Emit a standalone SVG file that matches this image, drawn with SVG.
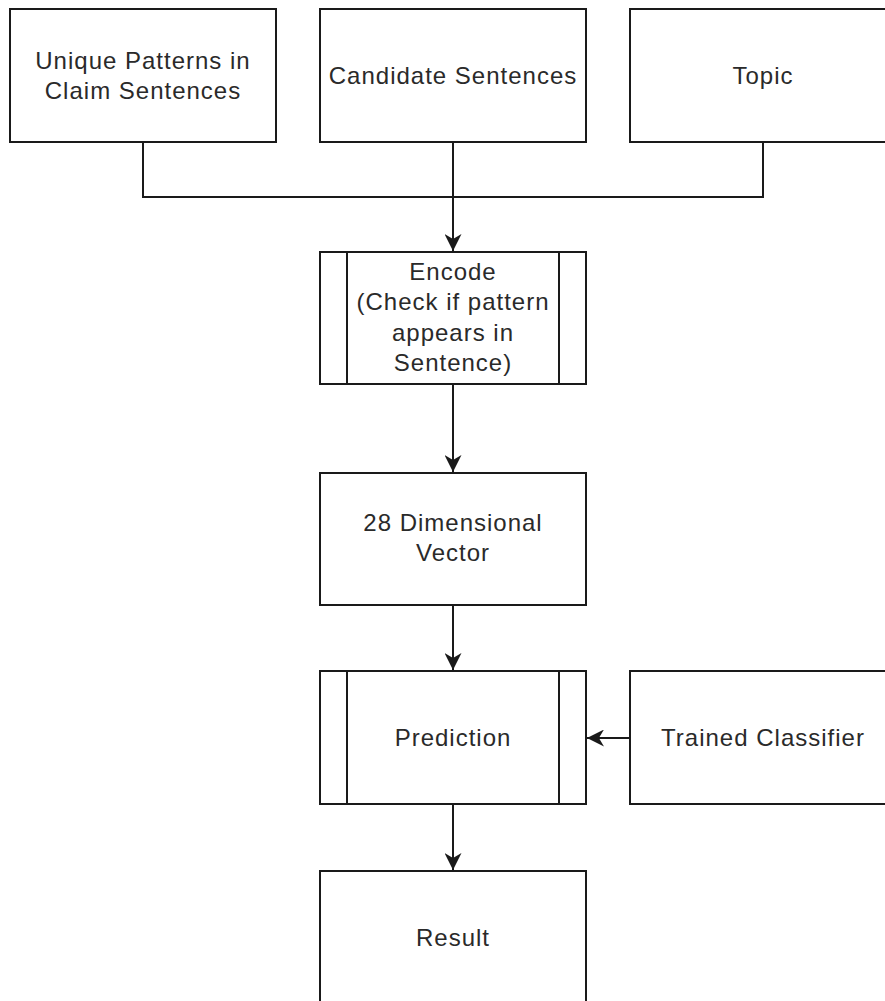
<svg xmlns="http://www.w3.org/2000/svg" width="885" height="1001" viewBox="0 0 885 1001">
  <style>
    .box { fill: #ffffff; stroke: #1a1a1a; stroke-width: 2; }
    .bar { stroke: #1a1a1a; stroke-width: 2; fill: none; }
    .edge { stroke: #1a1a1a; stroke-width: 2; fill: none; }
    .lbl { font-family: "Liberation Sans", Arial, Helvetica, sans-serif; font-size: 24px; letter-spacing: 1px; fill: #2a2a2a; text-anchor: middle; }
  </style>
  <defs>
    <marker id="arrow" viewBox="0 0 10 10" refX="10" refY="5" markerWidth="17" markerHeight="17" markerUnits="userSpaceOnUse" orient="auto">
      <path d="M0,0 L10,5 L0,10 L3,5 Z" fill="#1a1a1a"/>
    </marker>
  </defs>
  <rect width="885" height="1001" fill="#ffffff"/>

  <g id="connectors">
    <path class="edge" d="M143,142 V197 H763 V142"/>
    <path class="edge" d="M453,142 V251" marker-end="url(#arrow)"/>
    <path class="edge" d="M453,384 V472" marker-end="url(#arrow)"/>
    <path class="edge" d="M453,605 V670" marker-end="url(#arrow)"/>
    <path class="edge" d="M630,738 H587" marker-end="url(#arrow)"/>
    <path class="edge" d="M453,804 V870" marker-end="url(#arrow)"/>
  </g>

  <g id="unique-patterns">
    <rect class="box" x="10" y="9" width="266" height="133"/>
    <text class="lbl" x="143" y="69">Unique Patterns in</text>
    <text class="lbl" x="143" y="99">Claim Sentences</text>
  </g>

  <g id="candidate-sentences">
    <rect class="box" x="320" y="9" width="266" height="133"/>
    <text class="lbl" x="453" y="84">Candidate Sentences</text>
  </g>

  <g id="topic">
    <rect class="box" x="630" y="9" width="266" height="133"/>
    <text class="lbl" x="763" y="84">Topic</text>
  </g>

  <g id="encode">
    <rect class="box" x="320" y="252" width="266" height="132"/>
    <line class="bar" x1="347" y1="252" x2="347" y2="384"/>
    <line class="bar" x1="559" y1="252" x2="559" y2="384"/>
    <text class="lbl" x="453" y="280">Encode</text>
    <text class="lbl" x="453" y="310">(Check if pattern</text>
    <text class="lbl" x="453" y="341">appears in</text>
    <text class="lbl" x="453" y="371">Sentence)</text>
  </g>

  <g id="vector">
    <rect class="box" x="320" y="473" width="266" height="132"/>
    <text class="lbl" x="453" y="531">28 Dimensional</text>
    <text class="lbl" x="453" y="561">Vector</text>
  </g>

  <g id="prediction">
    <rect class="box" x="320" y="671" width="266" height="133"/>
    <line class="bar" x1="347" y1="671" x2="347" y2="804"/>
    <line class="bar" x1="559" y1="671" x2="559" y2="804"/>
    <text class="lbl" x="453" y="746">Prediction</text>
  </g>

  <g id="trained-classifier">
    <rect class="box" x="630" y="671" width="266" height="133"/>
    <text class="lbl" x="763" y="746">Trained Classifier</text>
  </g>

  <g id="result">
    <rect class="box" x="320" y="871" width="266" height="140"/>
    <text class="lbl" x="453" y="946">Result</text>
  </g>
</svg>
